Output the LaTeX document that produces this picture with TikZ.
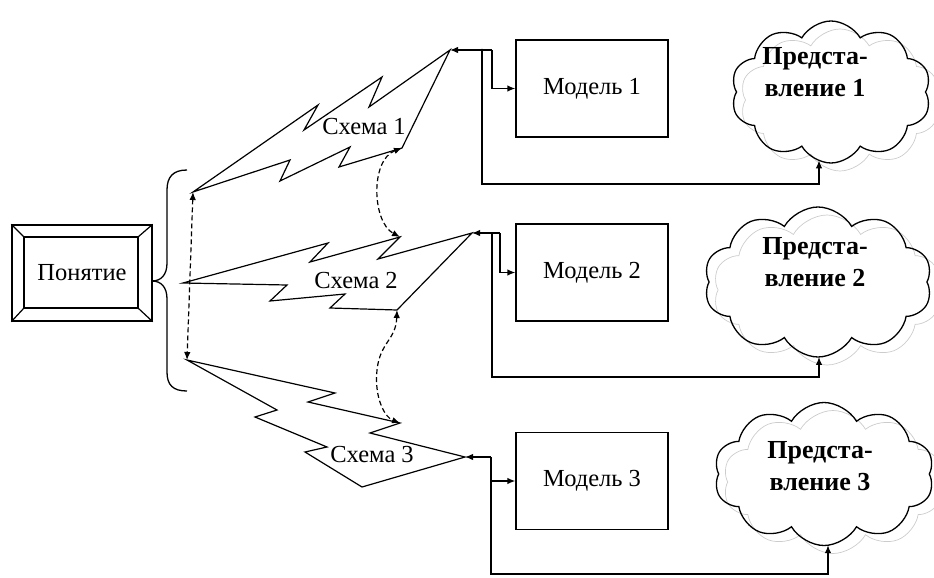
\documentclass[tikz,border=0pt]{standalone}
\usepackage{fontspec}
\setmainfont{Liberation Serif}
\usetikzlibrary{arrows.meta,shapes.symbols,intersections}
\tikzset{
  fnt/.style={font=\fontsize{24.5}{28}\selectfont},
  modelbox/.style={draw, line width=1.3pt, minimum width=152pt, minimum height=97pt, fnt},
  lbl/.style={fnt, inner sep=0pt},
  ctxt/.style={font=\bfseries\fontsize{26}{32}\selectfont, align=center, inner sep=0pt},
  cloudshape/.style={cloud, cloud puffs=10, cloud puff arc=120, aspect=1.45, draw, line width=1.3pt, inner sep=0pt},
  ghostcloud/.style={cloudshape, draw=black!20, line width=0.7pt},
  ln/.style={line width=1.2pt, line join=miter},
  arr/.style={line width=1.3pt, -{Latex[length=8pt,width=6.5pt]}},
  dasharr/.style={line width=1.2pt, dash pattern=on 5pt off 3pt, {Latex[length=8pt,width=6.5pt]}-{Latex[length=8pt,width=6.5pt]}}
}
\begin{document}
\begin{tikzpicture}[x=1pt,y=-1pt]
\useasboundingbox (0,0) rectangle (934,578);

% concept box with bevel
\node[draw, line width=1.3pt, minimum width=140pt, minimum height=96pt, fnt] (concept) at (82,273) {Понятие};
\coordinate (in1) at (24,237);
\coordinate (in2) at (138,237);
\coordinate (in3) at (138,308);
\coordinate (in4) at (24,308);
\draw[line width=1.2pt] (in1) -- (in2) -- (in3) -- (in4) -- cycle;
\draw[line width=1.2pt] (concept.north west) -- (in1) (concept.north east) -- (in2)
  (concept.south east) -- (in3) (concept.south west) -- (in4);

% brace
\coordinate (btip) at (152,281);
\draw[line width=1.3pt] (187,170) .. controls (173,170) and (167,177) .. (167,190) -- (167,263)
  .. controls (167,275) and (161,281) .. (btip)
  .. controls (161,281) and (167,287) .. (167,299) -- (167,372)
  .. controls (167,385) and (173,391) .. (187,391);

% schema 1
\coordinate (s1l) at (193,192);
\coordinate (s1t) at (450,50);
\coordinate (s1b) at (402,148);
\draw[ln] (s1l) -- (318,105) -- (304,130) -- (382,77) -- (369,107) -- (s1t) -- (s1b)
  -- (339,167) -- (350,147) -- (280,181) -- (290,160) -- cycle;
\node[lbl] (sch1) at (364,127) {Схема 1};

% schema 2
\coordinate (s2l) at (183,283);
\coordinate (s2t) at (472,233);
\coordinate (s2b) at (397,310);
\coordinate (s2n) at (400,237);
\draw[ln] (s2l) -- (328,243) -- (310,262) -- (s2n) -- (378,259) -- (s2t) -- (s2b)
  -- (330,308) -- (345,294) -- (270,301) -- (287,285) -- cycle;
\node[lbl] (sch2) at (356,281) {Схема 2};

% schema 3
\coordinate (s3l) at (187,360);
\coordinate (s3t) at (465,457);
\coordinate (s3n) at (400,423);
\draw[ln] (s3l) -- (335,393) -- (308,402) -- (s3n) -- (370,433) -- (s3t) -- (362,487)
  -- (305,452) -- (327,447) -- (255,417) -- (277,410) -- cycle;
\node[lbl] (sch3) at (372,455) {Схема 3};

% dashed links
\draw[dasharr] (s1l) -- (s3l);
\draw[dasharr] (s1b) .. controls (370,160) and (372,222) .. (s2n);
\draw[dasharr] (s2b) .. controls (396,340) and (380,342) .. (377,370)
  .. controls (374,400) and (386,418) .. (s3n);

% models
\node[modelbox] (m1) at (592,88.5) {Модель 1};
\node[modelbox] (m2) at (592,272.5) {Модель 2};
\node[modelbox] (m3) at (592,481) {Модель 3};

% clouds (faint shadow first)
\node[ghostcloud, minimum width=200pt, minimum height=142pt] (g1) at (840,100) {};
\node[ghostcloud, minimum width=228pt, minimum height=150pt] (g2) at (827,290) {};
\node[ghostcloud, minimum width=220pt, minimum height=143pt] (g3) at (833,482) {};
\node[cloudshape, name path=c1p, minimum width=200pt, minimum height=142pt] (c1) at (831,92) {};
\node[cloudshape, name path=c2p, minimum width=228pt, minimum height=150pt] (c2) at (818,282) {};
\node[cloudshape, name path=c3p, minimum width=220pt, minimum height=143pt] (c3) at (824,474) {};
\node[ctxt] (t1) at (815,72) {Предста-\\вление 1};
\node[ctxt] (t2) at (815,262) {Предста-\\вление 2};
\node[ctxt] (t3) at (820,466) {Предста-\\вление 3};

\path[name path=v1] (819,120) -- (819,190);
\path[name path=v2] (819,310) -- (819,380);
\path[name path=v3] (828,500) -- (828,578);
\path[name intersections={of=c1p and v1, by={c1in}}];
\path[name intersections={of=c2p and v2, by={c2in}}];
\path[name intersections={of=c3p and v3, by={c3in}}];

% connectors row 1
\coordinate (j1) at (492,50);
\coordinate (k1) at (482,50);
\draw[arr] (j1) -- (s1t);
\draw[arr] (j1) |- (m1.west);
\draw[arr] (k1) |- (c1in |- 0,184) -- (c1in);
\fill (k1) circle (1.4pt);

% connectors row 2
\coordinate (j2) at (500,233);
\coordinate (k2) at (492,233);
\draw[arr] (j2) -- (s2t);
\draw[arr] (j2) |- (m2.west);
\draw[arr] (k2) |- (c2in |- 0,377) -- (c2in);

% connectors row 3
\coordinate (j3) at (491,457);
\coordinate (k3) at (491,481);
\draw[arr] (j3) -- (s3t);
\draw[arr] (j3) |- (m3.west);
\draw[arr] (k3) |- (c3in |- 0,574) -- (c3in);
\end{tikzpicture}
\end{document}
